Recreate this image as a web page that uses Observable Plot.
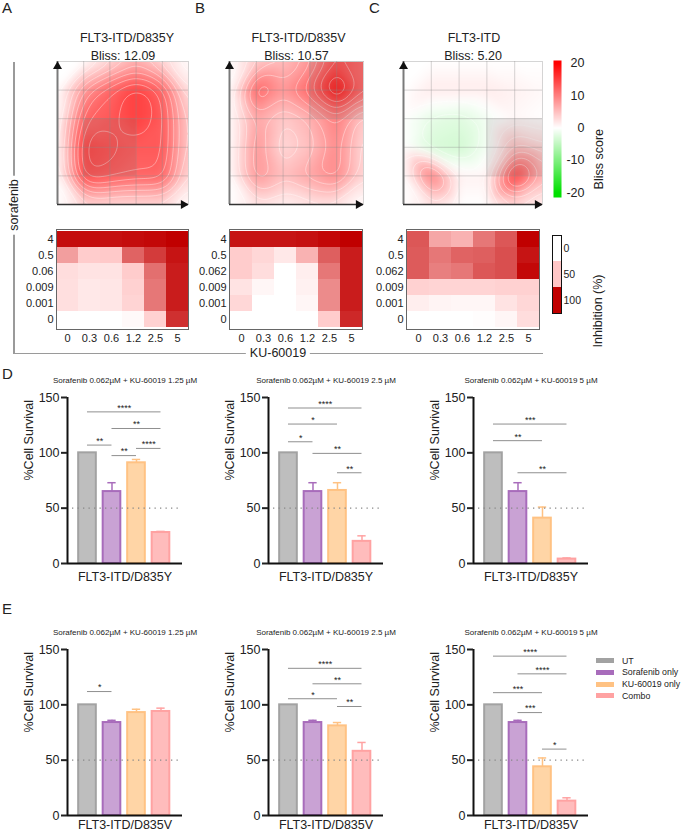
<!DOCTYPE html>
<html><head><meta charset="utf-8">
<script src="https://cdn.jsdelivr.net/npm/d3@7"></script>
<script src="https://cdn.jsdelivr.net/npm/@observablehq/plot@0.6"></script>
<style>
body{margin:0;background:#fff;font-family:"Liberation Sans",Arial,Helvetica,sans-serif;}
#root{position:relative;width:685px;height:834px;overflow:hidden;background:#fff;}
.lbl{position:absolute;color:#222;white-space:nowrap;line-height:1;}
</style></head><body><div id="root"></div>
<script>
// ---------------- DATA ----------------
const panelLetters = ["A","B","C","D","E"];
const cellLines = ["FLT3-ITD/D835Y","FLT3-ITD/D835V","FLT3-ITD"];
const blissScores = ["12.09","10.57","5.20"];
const kuDoses = ["0","0.3","0.6","1.2","2.5","5"];
const sorDosesA = ["4","0.5","0.06","0.009","0.001","0"];
const sorDosesBC = ["4","0.5","0.062","0.009","0.001","0"];

// Bliss synergy surfaces: rows top (highest sorafenib) -> bottom, cols KU dose index 0..5
const blissA = [
  [0, 0, 3, 6, 3, 0],
  [0, 8, 12, 15, 12, 2],
  [0, 12, 13, 15, 13, 4],
  [0, 15, 14, 13, 13, 4],
  [0, 14, 13, 12, 12, 3],
  [0, 3, 3, 3, 3, 0]
];
const blissB = [
  [0, 4, 5, 8, 14, 12],
  [0, 12, 8, 12, 19, 12],
  [0, 7, 4, 6, 10, 4],
  [0, 8, 3, 5, 9, 3],
  [0, 8, 5, 7, 9, 3],
  [0, 2, 1, 2, 2, 0]
];
const blissC = [
  [0, 0, 0, 0, 0, 0],
  [0, 1.5, 1.5, 1.5, 1, 0.5],
  [0, -2, -2.5, -1, 0.5, 0],
  [0, -3, -3.5, -1, 5, 3],
  [0, 10, 1, 1, 15, 6],
  [0, 2, 0, 0, 3, 1]
];
// most synergistic area (dose-index units)
const synergyAreas = [
  {x1: 1, x2: 3, y1: 1, y2: 3},
  {x1: 3, x2: 5, y1: 3, y2: 5},
  {x1: 3, x2: 5, y1: 1, y2: 3}
];
const blissTicks = [20, 10, 0, -10, -20];

// Inhibition (%) matrices: rows = sorafenib (top->bottom), cols = KU-60019
const inhibitionA = [
  [97, 97, 96, 97, 98, 100],
  [60, 45, 47, 75, 85, 95],
  [30, 25, 25, 45, 72, 93],
  [28, 20, 22, 40, 70, 93],
  [28, 20, 22, 38, 70, 93],
  [0, 0, 0, 5, 40, 88]
];
const inhibitionB = [
  [95, 95, 95, 96, 98, 100],
  [45, 35, 20, 55, 76, 93],
  [45, 30, 0, 15, 70, 93],
  [25, 8, 0, 12, 65, 93],
  [35, 0, 0, 8, 65, 93],
  [0, 0, 0, 0, 45, 90]
];
const inhibitionC = [
  [78, 58, 55, 70, 78, 100],
  [77, 70, 75, 76, 80, 95],
  [77, 68, 70, 78, 80, 98],
  [40, 38, 38, 38, 40, 40],
  [15, 10, 8, 8, 25, 35],
  [0, 0, 0, 2, 8, 30]
];
const inhibitionLegend = [0, 50, 100];

// Cell survival bar charts
const groups = ["UT", "Sorafenib only", "KU-60019 only", "Combo"];
const kuConcentrations = ["1.25", "2.5", "5"];
const survivalD = [[100, 65, 91, 28], [100, 65, 66, 20], [100, 65, 41, 4]];
const errorD    = [[0, 8, 3, 1], [0, 8, 7, 5], [0, 8, 10, 1]];
const survivalE = [[100, 84, 93, 94], [100, 84, 81, 58], [100, 84, 44, 13]];
const errorE    = [[0, 2, 3, 3], [0, 2, 3, 8], [0, 2, 8, 3]];
// significance brackets: [from group, to group, y level, stars]
const sigD = [
  [[0, 3, 137, "****"], [1, 3, 122, "**"], [0, 1, 107, "**"], [2, 3, 104, "****"], [1, 2, 97.5, "**"]],
  [[0, 3, 140.5, "****"], [0, 2, 126, "*"], [0, 1, 110, "*"], [1, 3, 99.5, "**"], [2, 3, 82, "**"]],
  [[0, 3, 126, "***"], [0, 2, 111, "**"], [1, 3, 82, "**"]]
];
const sigE = [
  [[0, 1, 112, "*"]],
  [[0, 3, 133, "****"], [1, 3, 119, "**"], [0, 2, 105.5, "*"], [2, 3, 98.5, "**"]],
  [[0, 3, 144, "****"], [1, 3, 128, "****"], [0, 2, 111, "***"], [1, 2, 93, "***"], [2, 3, 60, "*"]]
];
const survivalTicks = [0, 50, 100, 150];
const barFill   = ["#bebebe", "#c9a2d4", "#ffd5a6", "#ffbcbc"];
const barStroke = ["#a2a2a2", "#a86cbb", "#ffc283", "#ffa2a2"];

// ---------------- HELPERS ----------------
const root = document.getElementById("root");
const FONT = '"Liberation Sans", Arial, Helvetica, sans-serif';
const baseStyle = {fontFamily: FONT, background: "transparent", overflow: "visible", color: "#222"};
function mount(node, left, top) {
  node.style.position = "absolute";
  node.style.left = left + "px";
  node.style.top = top + "px";
  root.appendChild(node);
}
function addText(txt, x, y, size, opts = {}) {
  const d = document.createElement("div");
  d.className = "lbl";
  d.textContent = txt;
  d.style.left = x + "px";
  d.style.top = y + "px";
  d.style.fontSize = size + "px";
  d.style.transform = opts.transform || "none";
  if (opts.bg) { d.style.background = "#fff"; d.style.padding = "0 4px"; }
  root.appendChild(d);
  return d;
}
const blissColor = {type: "linear", domain: [-20, 0, 20], range: ["#00e000", "#ffffff", "#ff0000"], interpolate: "rgb", clamp: true};
const inhibitionColor = {type: "linear", domain: [0, 50, 100], range: ["#ffffff", "#ffc6c6", "#c00000"], interpolate: "rgb", clamp: true};

// ---------------- BLISS SURFACES ----------------
function surface(grid, frameLeft, frameW, title, score, area, titleDx) {
  const n = grid.length - 1;
  const pts = grid.flatMap((row, r) => row.map((v, c) => ({x: c, y: n - r, v})));
  const ml = 10, mr = 8, mt = 42, mb = 8, fh = 143;
  const svg = Plot.plot({
    width: ml + frameW + mr, height: mt + fh + mb,
    marginLeft: ml, marginRight: mr, marginTop: mt, marginBottom: mb,
    x: {domain: [0, n], axis: null}, y: {domain: [0, n], axis: null},
    color: blissColor,
    style: baseStyle,
    marks: [
      Plot.raster(pts, {x: "x", y: "y", fill: "v", interpolate: "barycentric", blur: 4, x1: 0, y1: 0, x2: n, y2: n}),
      Plot.contour(pts, {x: "x", y: "y", value: "v", interpolate: "barycentric", blur: 4, x1: 0, y1: 0, x2: n, y2: n,
        interval: 1.5, fill: "none", stroke: "#ffffff", strokeOpacity: 0.55, strokeWidth: 0.7}),
      Plot.rect([area], {x1: "x1", x2: "x2", y1: "y1", y2: "y2", fill: "#6a6a6a", fillOpacity: 0.15}),
      Plot.ruleX(d3.range(1, n + 1), {stroke: "#8a8a8a", strokeOpacity: 0.45, strokeWidth: 0.8}),
      Plot.ruleY(d3.range(1, n + 1), {stroke: "#8a8a8a", strokeOpacity: 0.45, strokeWidth: 0.8}),
      Plot.ruleX([0], {stroke: "#7a7a7a", strokeWidth: 2}),
      Plot.ruleY([0], {stroke: "#333", strokeWidth: 1.5}),
      Plot.dot([[0, n]], {x: d => d[0], y: d => d[1], symbol: "triangle2", r: 4.3, fill: "#111", stroke: "none", dy: 5}),
      Plot.dot([[n, 0]], {x: d => d[0], y: d => d[1], symbol: "triangle2", r: 4.3, fill: "#111", stroke: "none", rotate: 90, dx: -5}),
      Plot.text([title], {text: d => d, frameAnchor: "top", dy: -28, dx: titleDx, fontSize: 12.5, fill: "#222"}),
      Plot.text(["Bliss: " + score], {text: d => d, frameAnchor: "top", dy: -10, fontSize: 12.5, fill: "#222"})
    ]
  });
  mount(svg, frameLeft - ml, 61 - mt);
}
surface(blissA, 57, 131, cellLines[0], blissScores[0], synergyAreas[0], 4);
surface(blissB, 229, 134, cellLines[1], blissScores[1], synergyAreas[1], 2);
surface(blissC, 403, 139, cellLines[2], blissScores[2], synergyAreas[2], 1);

// Bliss legend
{
  const yLo = -21.55, yHi = 20.93;
  const ml = 2, mr = 50, mt = 4, mb = 4;
  const svg = Plot.plot({
    width: ml + 8 + mr, height: mt + 137 + mb,
    marginLeft: ml, marginRight: mr, marginTop: mt, marginBottom: mb,
    x: {domain: [0, 1], axis: null}, y: {domain: [yLo, yHi], axis: null},
    color: blissColor, style: baseStyle,
    marks: [
      Plot.raster({fill: (x, y) => y, x1: 0, x2: 1, y1: yLo, y2: yHi}),
      Plot.text(blissTicks, {y: d => d, text: d => String(d), frameAnchor: "right", dx: 23, textAnchor: "end", fontSize: 12.5, fill: "#222"}),
      Plot.text(["Bliss score"], {text: d => d, frameAnchor: "right", dx: 37, rotate: -90, fontSize: 12.5, fill: "#222"})
    ]
  });
  mount(svg, 553 - ml, 60 - mt);
}

// ---------------- INHIBITION HEATMAPS ----------------
function heatmap(matrix, sorDoses, frameLeft, frameW) {
  const cells = matrix.flatMap((row, r) => row.map((v, c) => ({ku: kuDoses[c], sor: sorDoses[r], v})));
  const ml = 44, mr = 4, mt = 4, mb = 20, fh = 100;
  const svg = Plot.plot({
    width: ml + frameW + mr, height: mt + fh + mb,
    marginLeft: ml, marginRight: mr, marginTop: mt, marginBottom: mb,
    x: {domain: kuDoses, padding: 0, tickSize: 0, tickPadding: 5, label: null},
    y: {domain: sorDoses, padding: 0, tickSize: 0, tickPadding: 3, label: null},
    color: inhibitionColor,
    style: {...baseStyle, fontSize: "11px"},
    marks: [
      Plot.cell(cells, {x: "ku", y: "sor", fill: "v", inset: 0}),
      Plot.frame({stroke: "#666"})
    ]
  });
  mount(svg, frameLeft - ml, 229 - mt);
}
heatmap(inhibitionA, sorDosesA, 56, 132);
heatmap(inhibitionB, sorDosesBC, 229, 133);
heatmap(inhibitionC, sorDosesBC, 406, 133);

// Inhibition legend
{
  const ml = 2, mr = 50, mt = 4, mb = 4;
  const svg = Plot.plot({
    width: ml + 9 + mr, height: mt + 78 + mb,
    marginLeft: ml, marginRight: mr, marginTop: mt, marginBottom: mb,
    y: {domain: inhibitionLegend.map(String), padding: 0, axis: null},
    color: inhibitionColor, style: baseStyle,
    marks: [
      Plot.cell(inhibitionLegend, {y: d => String(d), fill: d => d, inset: 0}),
      Plot.frame({stroke: "#111"}),
      Plot.text(inhibitionLegend, {y: d => String(d), text: d => String(d), frameAnchor: "right", dx: 2, textAnchor: "start", fontSize: 10.5, fill: "#222"}),
      Plot.text(["Inhibition (%)"], {text: d => d, frameAnchor: "right", dx: 36, rotate: -90, fontSize: 12.5, fill: "#222"})
    ]
  });
  mount(svg, 552 - ml, 235 - mt);
}

// shared dose axis brackets
{
  const v = document.createElement("div");
  Object.assign(v.style, {position: "absolute", left: "13px", top: "62px", width: "1.5px", height: "292px", background: "#9a9a9a"});
  root.appendChild(v);
  const h = document.createElement("div");
  Object.assign(h.style, {position: "absolute", left: "13px", top: "352.5px", width: "530px", height: "1.5px", background: "#9a9a9a"});
  root.appendChild(h);
  addText("sorafenib", 14, 205, 12.5, {transform: "translate(-50%,-50%) rotate(-90deg)", bg: true});
  addText("KU-60019", 278, 353, 12.5, {transform: "translate(-50%,-50%)", bg: true});
}

// ---------------- BAR CHARTS ----------------
const xDomain = [-0.816, 3.878];
const barHalf = 0.36, capHalf = 0.17;
function barChart(vals, errs, sig, subtitle, cellLine, frameLeft, frameTop, labelDy) {
  const data = groups.map((g, i) => ({g, i, v: vals[i], e: errs[i]}));
  const errData = data.filter(d => d.e > 0);
  const sigData = sig.map(([a, b, y, s]) => ({a, b, y, s}));
  const ml = 48, mr = 10, mt = 32, mb = 24, fw = 115, fh = 166;
  const svg = Plot.plot({
    width: ml + fw + mr, height: mt + fh + mb,
    marginLeft: ml, marginRight: mr, marginTop: mt, marginBottom: mb,
    x: {domain: xDomain, axis: null},
    y: {domain: [0, 150], axis: null},
    style: baseStyle,
    marks: [
      Plot.rect(data, {x1: d => d.i - barHalf, x2: d => d.i + barHalf, y1: 0, y2: "v",
        fill: d => barFill[d.i], stroke: d => barStroke[d.i], strokeWidth: 2}),
      Plot.ruleX(errData, {x: "i", y1: "v", y2: d => d.v + d.e, stroke: d => barStroke[d.i], strokeWidth: 1.5}),
      Plot.ruleY(errData, {y: d => d.v + d.e, x1: d => d.i - capHalf, x2: d => d.i + capHalf, stroke: d => barStroke[d.i], strokeWidth: 1.5}),
      Plot.ruleY([50], {stroke: "#888", strokeDasharray: "1.3 4.2", strokeWidth: 1.3, insetLeft: 5, insetRight: 2}),
      Plot.ruleY(sigData, {y: "y", x1: "a", x2: "b", stroke: "#8f8f8f", strokeWidth: 1}),
      Plot.text(sigData, {x: d => (d.a + d.b) / 2, y: "y", text: "s", dy: -4, fontSize: 9, fill: "#222"}),
      Plot.ruleY([0], {stroke: "#111", strokeWidth: 2}),
      Plot.ruleX([xDomain[0]], {stroke: "#111", strokeWidth: 2}),
      Plot.axisY({ticks: survivalTicks, tickSize: 6, tickPadding: 2, strokeWidth: 2, fontSize: 12.5, label: null}),
      Plot.text([subtitle], {text: d => d, frameAnchor: "top", dy: -20, fontSize: 8, fill: "#222"}),
      Plot.text([cellLine], {text: d => d, frameAnchor: "bottom", dy: labelDy, fontSize: 12.5, fill: "#222"}),
      Plot.text(["%Cell Survival"], {text: d => d, frameAnchor: "left", dx: -39, rotate: -90, fontSize: 12.5, fill: "#222"})
    ]
  });
  mount(svg, frameLeft - ml, frameTop - mt);
}
const barLefts = [67, 268, 473];
kuConcentrations.forEach((c, k) => {
  const sub = "Sorafenib 0.062µM + KU-60019 " + c + " µM";
  barChart(survivalD[k], errorD[k], sigD[k], sub, cellLines[0], barLefts[k], 397, 17);
  barChart(survivalE[k], errorE[k], sigE[k], sub, cellLines[1], barLefts[k], 649, 13);
});

// group legend
groups.forEach((g, i) => {
  const y = 660.7 + i * 11.7;
  const sw = document.createElement("div");
  Object.assign(sw.style, {position: "absolute", left: "596px", top: (y - 2.5) + "px", width: "18px", height: "5px", background: barStroke[i]});
  root.appendChild(sw);
  addText(g, 622, y, 8.8, {transform: "translateY(-50%)"});
});

// panel letters
const letterPos = [[2, 0], [195, 0], [369, 0], [2, 366], [2, 601]];
panelLetters.forEach((L, i) => addText(L, letterPos[i][0], letterPos[i][1], 15));
</script></body></html>
